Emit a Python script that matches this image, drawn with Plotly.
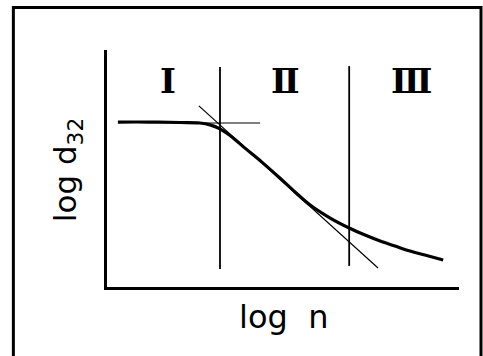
import plotly.graph_objects as go

# Sauter mean diameter vs. rotational speed (log-log, schematic)
log_n = [0.31, 1.22, 2.07, 2.64, 2.93, 3.21, 3.55, 3.92, 4.40, 4.91,
         5.34, 5.77, 6.34, 6.88, 7.33, 7.76, 8.18, 8.61, 9.03, 9.55]
log_d32 = [6.96, 6.96, 6.94, 6.92, 6.84, 6.67, 6.33, 5.86, 5.27, 4.60,
           4.01, 3.46, 2.91, 2.49, 2.19, 1.94, 1.73, 1.52, 1.35, 1.14]

# Regime boundaries and their vertical extent
boundary_x = [3.21, 6.88]
boundary_y0 = [0.76, 0.89]
boundary_y1 = [9.28, 9.32]

# Regime labels
regime_labels = ["Ⅰ", "Ⅱ", "Ⅲ"]
regime_x = [1.73, 5.06, 8.64]
regime_y = 8.69

# Asymptotes: plateau and power-law slope
plateau_x = [2.78, 4.35]
plateau_y = [6.92, 6.92]
slope_x = [2.61, 7.70]
slope_y = [7.64, 0.80]

fig = go.Figure()

fig.add_trace(go.Scatter(x=plateau_x, y=plateau_y, mode="lines",
                         line=dict(color="black", width=1.2), hoverinfo="skip"))
fig.add_trace(go.Scatter(x=slope_x, y=slope_y, mode="lines",
                         line=dict(color="black", width=1.2), hoverinfo="skip"))
for bx, y0, y1 in zip(boundary_x, boundary_y0, boundary_y1):
    fig.add_trace(go.Scatter(x=[bx, bx], y=[y0, y1], mode="lines",
                             line=dict(color="black", width=1.8), hoverinfo="skip"))
fig.add_trace(go.Scatter(x=log_n, y=log_d32, mode="lines",
                         line=dict(color="black", width=3.2, shape="spline"),
                         hoverinfo="skip"))

annotations = []
for lab, lx in zip(regime_labels, regime_x):
    annotations.append(dict(x=lx, y=regime_y, xref="x", yref="y",
                            text="<b>" + lab + "</b>", showarrow=False,
                            font=dict(family="DejaVu Serif", size=34, color="black")))
annotations.append(dict(x=0.5, y=-0.125, xref="paper", yref="paper",
                        text="log  n", showarrow=False, yanchor="middle",
                        font=dict(family="DejaVu Sans", size=32, color="black")))
annotations.append(dict(x=-0.11, y=0.494, xref="paper", yref="paper",
                        text="log d<sub>32</sub>", showarrow=False, textangle=-90,
                        xanchor="center", yanchor="middle",
                        font=dict(family="DejaVu Sans", size=31, color="black")))

fig.update_layout(
    width=483, height=356,
    margin=dict(l=107, r=24, t=50, b=69),
    paper_bgcolor="white", plot_bgcolor="white",
    showlegend=False,
    annotations=annotations,
    shapes=[dict(type="rect", xref="paper", yref="paper",
                 x0=-0.266, x1=1.0625, y0=-0.33, y1=1.179,
                 line=dict(color="black", width=3))],
    xaxis=dict(range=[0, 10], showline=True, linecolor="black", linewidth=2.5,
               showgrid=False, zeroline=False, showticklabels=False, ticks=""),
    yaxis=dict(range=[0, 10], showline=True, linecolor="black", linewidth=2.5,
               showgrid=False, zeroline=False, showticklabels=False, ticks=""),
)

fig.write_html("out.html")
